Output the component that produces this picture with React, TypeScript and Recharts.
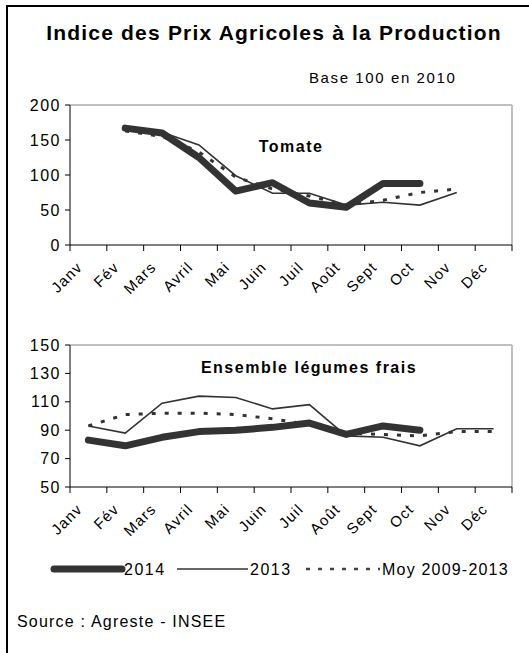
import React from "react";
import { LineChart, Line, XAxis, YAxis, ReferenceLine } from "recharts";

const months = ["Janv", "Fév", "Mars", "Avril", "Mai", "Juin", "Juil", "Août", "Sept", "Oct", "Nov", "Déc"];

// Tomate
const tomate2014 = [null, 167, 160, 125, 77, 89, 60, 54, 88, 88, null, null];
const tomate2013 = [null, 167, 161, 143, 99, 74, 74, 57, 61, 57, 75, null];
const tomateMoy = [null, 163, 155, 133, 97, 80, 70, 57, 64, 75, 80, null];

// Ensemble légumes frais
const leg2014 = [83, 79, 85, 89, 90, 92, 95, 87, 93, 90, null, null];
const leg2013 = [93, 88, 109, 114, 113, 105, 108, 86, 85, 79, 91, 91];
const legMoy = [93, 101, 102, 102, 101, 98, 94, 88, 87, 86, 89, 89];

const tomateTicks = [0, 50, 100, 150, 200];
const legTicks = [50, 70, 90, 110, 130, 150];
const bounds = [0, 1, 2, 3, 4, 5, 6, 7, 8, 9, 10, 11, 12];

const build = (a: (number | null)[], b: (number | null)[], c: (number | null)[]) =>
  months.map((m, i) => ({ x: i + 0.5, month: m, y2014: a[i], y2013: b[i], moy: c[i] }));

const tomateData = build(tomate2014, tomate2013, tomateMoy);
const legData = build(leg2014, leg2013, legMoy);

const W = 529;
const M = { top: 10, right: 17, left: 10, bottom: 0 };
const BAND = (W - M.left - 60 - M.right) / 12;
const INK = "#333333";
const FONT = "Arial, 'Liberation Sans', sans-serif";

const MonthTick = (props: any) => {
  const { x, y, payload } = props;
  const v = payload.value;
  if (v >= 12) return null;
  const ax = x + BAND / 2 - 5;
  const ay = y + 15;
  return (
    <text
      x={ax}
      y={ay}
      transform={`rotate(-45 ${ax} ${ay})`}
      textAnchor="end"
      fontSize={15}
      letterSpacing={1.2}
      fill="#000"
      fontFamily={FONT}
    >
      {months[v]}
    </text>
  );
};

function Panel({ data, ticks, title, titleX, titleY, height }: any) {
  const max = ticks[ticks.length - 1];
  return (
    <LineChart width={W} height={height} data={data} margin={M}>
      <XAxis
        dataKey="x"
        type="number"
        domain={[0, 12]}
        ticks={bounds}
        interval={0}
        stroke="#000"
        tickSize={6}
        tick={<MonthTick />}
        height={60}
      />
      <YAxis
        domain={[ticks[0], max]}
        ticks={ticks}
        interval={0}
        width={60}
        stroke="#000"
        tickSize={5}
        tickMargin={4}
        tick={{ fill: "#000", fontSize: 16, fontFamily: FONT, letterSpacing: 1.5 }}
      />
      <ReferenceLine y={max} stroke="#c0c0c0" strokeWidth={2} />
      <ReferenceLine x={12} stroke="#c0c0c0" strokeWidth={2} />
      <Line dataKey="moy" stroke={INK} strokeWidth={3} strokeDasharray="4 9" dot={false} isAnimationActive={false} />
      <Line dataKey="y2013" stroke={INK} strokeWidth={1.6} dot={false} isAnimationActive={false} />
      <Line
        dataKey="y2014"
        stroke={INK}
        strokeWidth={7}
        strokeLinecap="round"
        strokeLinejoin="round"
        dot={false}
        isAnimationActive={false}
      />
      <text
        x={titleX}
        y={titleY}
        textAnchor="middle"
        fontSize={16}
        letterSpacing={1.5}
        fontWeight="bold"
        fontFamily={FONT}
        fill="#000"
      >
        {title}
      </text>
    </LineChart>
  );
}

export default function App() {
  return (
    <div style={{ position: "absolute", left: 0, top: 0, width: W, height: 653, background: "#fff", fontFamily: FONT, overflow: "hidden" }}>
      <div style={{ position: "absolute", left: 6, top: 5, width: 600, height: 700, borderLeft: "2px solid #000", borderTop: "2px solid #000" }} />
      <div style={{ position: "absolute", left: 0, top: 21, width: 548, textAlign: "center", fontSize: 21, letterSpacing: 1.2, fontWeight: "bold" }}>
        Indice des Prix Agricoles à la Production
      </div>
      <div style={{ position: "absolute", left: 309, top: 69, fontSize: 15, letterSpacing: 1.6 }}>Base 100 en 2010</div>
      <div style={{ position: "absolute", left: 0, top: 95 }}>
        <Panel data={tomateData} ticks={tomateTicks} title="Tomate" titleX={291} titleY={57} height={210} />
      </div>
      <div style={{ position: "absolute", left: 0, top: 335 }}>
        <Panel data={legData} ticks={legTicks} title="Ensemble légumes frais" titleX={309} titleY={38} height={212} />
      </div>
      <svg style={{ position: "absolute", left: 0, top: 554 }} width={W} height={30}>
        <line x1={54} y1={15} x2={122} y2={15} stroke={INK} strokeWidth={7} strokeLinecap="round" />
        <text x={124} y={21} fontSize={16} fontFamily={FONT} letterSpacing={1.5}>2014</text>
        <line x1={177} y1={15} x2={248} y2={15} stroke={INK} strokeWidth={1.6} />
        <text x={250} y={21} fontSize={16} fontFamily={FONT} letterSpacing={1.5}>2013</text>
        <line x1={306} y1={15} x2={380} y2={15} stroke="#444" strokeWidth={2.5} strokeDasharray="4 8" />
        <text x={382} y={21} fontSize={16} fontFamily={FONT} letterSpacing={1.2}>Moy 2009-2013</text>
      </svg>
      <div style={{ position: "absolute", left: 17, top: 613, fontSize: 16, letterSpacing: 1.2 }}>Source : Agreste - INSEE</div>
    </div>
  );
}
